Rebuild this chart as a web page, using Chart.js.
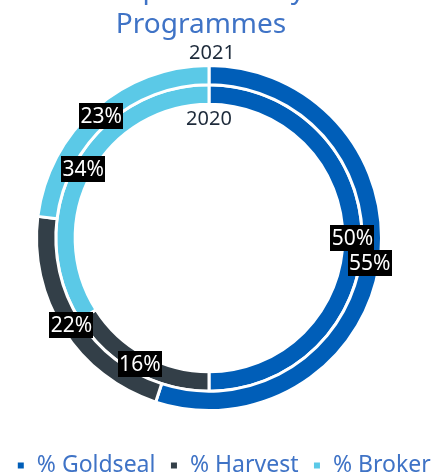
<!DOCTYPE html>
<html>
<head>
<meta charset="utf-8">
<script src="https://cdn.jsdelivr.net/npm/chart.js@4/dist/chart.umd.min.js"></script>
<style>
  html, body { margin: 0; padding: 0; background: #fff; }
  #wrap { width: 447px; height: 472px; }
</style>
</head>
<body>
<div id="wrap"><canvas id="myChart" width="447" height="472"></canvas></div>
<script>
const titleLines = ['Crop Volume by', 'Programmes'];
const categories = ['% Goldseal', '% Harvest', '% Broker'];
const years = ['2021', '2020'];
const values2021 = [55, 22, 23];
const values2020 = [50, 16, 34];

const ringColors = ['#005EB8', '#333F48', '#5BC9E7'];
const blueText = '#3F73C6';
const fontName = "'Noto Sans', 'Open Sans', sans-serif";

// put the doughnut where the reference has it
const ringLayout = {
    id: 'ringLayout',
    afterLayout(chart) {
        const ca = chart.chartArea;
        ca.left = 35;
        ca.right = 383;
        ca.top = 64;
        ca.bottom = 412;
        ca.width = ca.right - ca.left;
        ca.height = ca.bottom - ca.top;
    }
};

// title, year names and the black value boxes
const ringText = {
    id: 'ringText',
    afterDraw(chart) {
        const ctx = chart.ctx;
        ctx.save();
        ctx.textAlign = 'center';

        ctx.fillStyle = blueText;
        ctx.font = '28px ' + fontName;
        ctx.textBaseline = 'alphabetic';
        ctx.fillText(titleLines[0], 201, -2);
        ctx.fillText(titleLines[1], 201, 33);

        ctx.textBaseline = 'middle';
        ctx.font = '20px ' + fontName;
        ctx.fillStyle = '#1E2B3B';
        const outer = chart.getDatasetMeta(0).data[0];
        const inner = chart.getDatasetMeta(1).data[0];
        ctx.fillText(years[0], outer.x + 3, outer.y - outer.outerRadius - 12);
        ctx.fillText(years[1], inner.x, inner.y - inner.innerRadius + 15);

        ctx.font = '21px ' + fontName;
        chart.data.datasets.forEach((ds, i) => {
            const meta = chart.getDatasetMeta(i);
            meta.data.forEach((arc, j) => {
                const p = arc.tooltipPosition();
                const txt = ds.data[j] + '%';
                const w = ctx.measureText(txt).width + 3;
                const h = 26;
                ctx.fillStyle = '#000';
                ctx.fillRect(Math.round(p.x - w / 2), Math.round(p.y - h / 2), Math.round(w), h);
                ctx.fillStyle = '#fff';
                ctx.fillText(txt, p.x, p.y + 1);
            });
        });
        ctx.restore();
    }
};

const ctx = document.getElementById('myChart').getContext('2d');
const myChart = new Chart(ctx, {
    type: 'doughnut',
    data: {
        labels: categories,
        datasets: [{
            label: years[0],
            data: values2021,
            backgroundColor: ringColors,
            borderColor: '#fff',
            borderWidth: 3
        }, {
            label: years[1],
            data: values2020,
            backgroundColor: ringColors,
            borderColor: '#fff',
            borderWidth: 3
        }]
    },
    options: {
        responsive: false,
        animation: false,
        cutout: '77.6%',
        layout: { padding: { top: 64, bottom: -15 } },
        plugins: {
            tooltip: { enabled: false },
            title: { display: false },
            legend: {
                position: 'bottom',
                labels: {
                    boxWidth: 9,
                    boxHeight: 9,
                    padding: 14,
                    color: blueText,
                    font: { family: fontName, size: 23 }
                }
            }
        }
    },
    plugins: [ringLayout, ringText]
});
</script>
</body>
</html>
